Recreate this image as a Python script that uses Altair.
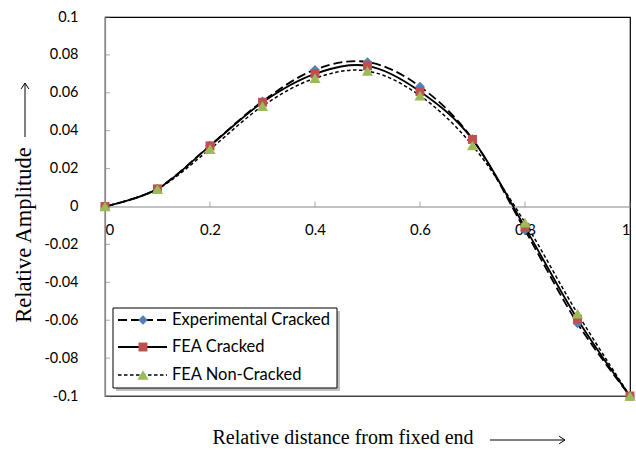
import altair as alt
import pandas as pd

# Relative position along the beam
positions = [0.0, 0.1, 0.2, 0.3, 0.4, 0.5, 0.6, 0.7, 0.8, 0.9, 1.0]

# Relative amplitude of each mode-shape series
experimental_cracked = [0.0, 0.0095, 0.0322, 0.0555, 0.0722, 0.0762, 0.0633, 0.0356, -0.0125, -0.0617, -0.1]
fea_cracked = [0.0, 0.0093, 0.0320, 0.0550, 0.0700, 0.0742, 0.0607, 0.0354, -0.0110, -0.0595, -0.1]
fea_non_cracked = [0.0, 0.0092, 0.0303, 0.0530, 0.0677, 0.0715, 0.0585, 0.0322, -0.0085, -0.0565, -0.1]

series_names = ["Experimental Cracked", "FEA Cracked", "FEA Non-Cracked"]
marker_colors = ["#4F81BD", "#C0504D", "#9BBB59"]
marker_shapes = ["diamond", "square", "triangle-up"]
marker_sizes = [90, 80, 125]
line_dashes = [[9, 4], [], [3.5, 2.5]]
line_widths = [1.8, 1.8, 1.5]

x_ticks = [0, 0.2, 0.4, 0.6, 0.8, 1]
y_ticks = [-0.1, -0.08, -0.06, -0.04, -0.02, 0, 0.02, 0.04, 0.06, 0.08, 0.1]

W, H = 525, 379
LABEL_FONT = "Lato"
TITLE_FONT = "Liberation Serif"
AXIS_GREY = "#868686"

x_scale = alt.Scale(domain=[0, 1], nice=False, zero=False)
y_scale = alt.Scale(domain=[-0.1, 0.1], nice=False, zero=False)

# Shared axis definitions (x axis sits on the zero line)
x_axis = alt.Axis(values=x_ticks, title=None, ticks=False, grid=False,
                  domainColor=AXIS_GREY, domainWidth=1.2, offset=-H / 2,
                  labelFont=LABEL_FONT, labelFontSize=15, labelColor="black",
                  labelPadding=16, labelExpr="datum.value + ''")
y_axis = alt.Axis(values=y_ticks, title=None, ticks=False, grid=False,
                  domainColor=AXIS_GREY, domainWidth=1.2,
                  labelFont=LABEL_FONT, labelFontSize=14.5, labelColor="black",
                  labelPadding=27, labelExpr="datum.value + ''")


def X(field):
    return alt.X(field, scale=x_scale, axis=x_axis)


def Y(field):
    return alt.Y(field, scale=y_scale, axis=y_axis)


frames = []
for name, vals in zip(series_names, [experimental_cracked, fea_cracked, fea_non_cracked]):
    frames.append(pd.DataFrame({"x": positions, "amp": vals, "series": name}))
data = pd.concat(frames, ignore_index=True)

one = pd.DataFrame({"k": [0]})

# Inward ticks on both axes and the bottom edge of the frame
y_tick_marks = alt.Chart(pd.DataFrame({"x": [0] * len(y_ticks), "amp": y_ticks})).mark_tick(
    orient="horizontal", size=5, thickness=1, color=AXIS_GREY, xOffset=2.5
).encode(x=X("x:Q"), y=Y("amp:Q"))

x_tick_marks = alt.Chart(pd.DataFrame({"x": x_ticks, "amp": [0] * len(x_ticks)})).mark_tick(
    orient="vertical", size=5, thickness=1, color=AXIS_GREY, yOffset=-2.5
).encode(x=X("x:Q"), y=Y("amp:Q"))

bottom_edge = alt.Chart(one).mark_rule(color=AXIS_GREY, strokeWidth=1.2).encode(
    x=alt.value(0), x2=alt.value(W), y=alt.value(H)
)

layers = [y_tick_marks, x_tick_marks, bottom_edge]

# Smoothed series lines
for name, dash, sw in zip(series_names, line_dashes, line_widths):
    mark_kwargs = dict(color="black", strokeWidth=sw, interpolate="cardinal")
    if dash:
        mark_kwargs["strokeDash"] = dash
    layers.append(
        alt.Chart(data[data.series == name]).mark_line(**mark_kwargs).encode(
            x=X("x:Q"), y=Y("amp:Q"))
    )

# Data markers
for name, col, shp, sz in zip(series_names, marker_colors, marker_shapes, marker_sizes):
    layers.append(
        alt.Chart(data[data.series == name]).mark_point(
            shape=shp, filled=True, color=col, size=sz, opacity=1, strokeWidth=0
        ).encode(x=X("x:Q"), y=Y("amp:Q"))
    )

# Legend box with shadow
LX0, LY0, LX1, LY1 = 8, 291, 232, 371
layers.append(alt.Chart(one).mark_rect(fill="#bfbfbf").encode(
    x=alt.value(LX0 + 3), x2=alt.value(LX1 + 3), y=alt.value(LY0 + 3), y2=alt.value(LY1 + 3)))
layers.append(alt.Chart(one).mark_rect(fill="white", stroke="black", strokeWidth=1).encode(
    x=alt.value(LX0), x2=alt.value(LX1), y=alt.value(LY0), y2=alt.value(LY1)))

row_y = [303, 330, 358]
for name, col, shp, sz, dash, sw, ry in zip(series_names, marker_colors, marker_shapes,
                                             marker_sizes, line_dashes, line_widths, row_y):
    rk = dict(color="black", strokeWidth=sw)
    if dash:
        rk["strokeDash"] = dash
    layers.append(alt.Chart(one).mark_rule(**rk).encode(
        x=alt.value(13), x2=alt.value(62), y=alt.value(ry)))
    layers.append(alt.Chart(one).mark_point(
        shape=shp, filled=True, color=col, size=sz, opacity=1, strokeWidth=0
    ).encode(x=alt.value(38), y=alt.value(ry)))
    layers.append(alt.Chart(one).mark_text(
        text=name, align="left", baseline="middle", font=LABEL_FONT, fontSize=16.5, color="black"
    ).encode(x=alt.value(67), y=alt.value(ry)))

# Axis titles with arrows
layers.append(alt.Chart(one).mark_text(
    text="Relative distance from fixed end", align="center", baseline="middle",
    font=TITLE_FONT, fontSize=20, color="black"
).encode(x=alt.value(238), y=alt.value(421)))
layers.append(alt.Chart(one).mark_rule(color="black", strokeWidth=1).encode(
    x=alt.value(385), x2=alt.value(460), y=alt.value(423)))
layers.append(alt.Chart(one).mark_point(
    shape="M-1,-0.65L0,0L-1,0.65", filled=False, color="black", strokeWidth=1, size=140, opacity=1
).encode(x=alt.value(460), y=alt.value(423)))

layers.append(alt.Chart(one).mark_text(
    text="Relative Amplitude", align="center", baseline="middle", angle=270,
    font=TITLE_FONT, fontSize=22.5, color="black"
).encode(x=alt.value(-81), y=alt.value(218)))
layers.append(alt.Chart(one).mark_rule(color="black", strokeWidth=1).encode(
    x=alt.value(-80), y=alt.value(66), y2=alt.value(120)))
layers.append(alt.Chart(one).mark_point(
    shape="M-0.65,1L0,0L0.65,1", filled=False, color="black", strokeWidth=1, size=140, opacity=1
).encode(x=alt.value(-80), y=alt.value(66)))

chart = alt.layer(*layers).properties(
    width=W, height=H,
    autosize=alt.AutoSizeParams(type="none"),
    padding={"left": 105, "top": 17, "right": 6, "bottom": 56},
    background="white",
).configure_view(stroke="black", strokeWidth=1.2)

chart.save("out.html", embed_options={"renderer": "svg", "actions": False})
